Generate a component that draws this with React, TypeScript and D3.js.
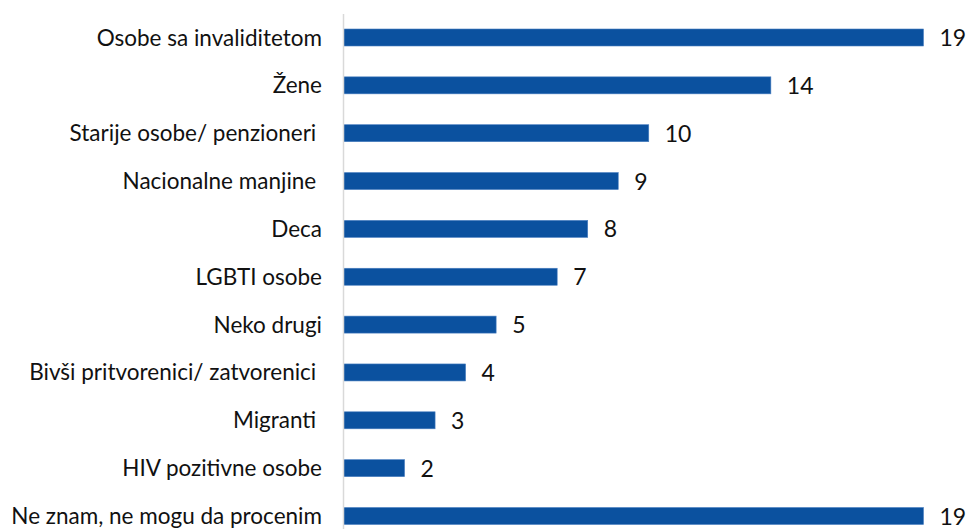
import React, { useEffect, useRef } from 'react';
import * as d3 from 'd3';

const categories = [
  'Osobe sa invaliditetom',
  'Žene',
  'Starije osobe/ penzioneri ',
  'Nacionalne manjine ',
  'Deca',
  'LGBTI osobe',
  'Neko drugi',
  'Bivši pritvorenici/ zatvorenici ',
  'Migranti ',
  'HIV pozitivne osobe',
  'Ne znam, ne mogu da procenim',
];
const values = [19, 14, 10, 9, 8, 7, 5, 4, 3, 2, 19];

const W = 966;
const H = 529;

export default function App() {
  const svgRef = useRef<SVGSVGElement>(null);

  useEffect(() => {
    if (!svgRef.current) return;
    const svg = d3.select(svgRef.current);
    svg.selectAll('*').remove();

    const axisX = 343.5;
    const x = d3.scaleLinear().domain([0, 19]).range([axisX, 923.5]);
    const y = d3.scalePoint<string>().domain(categories).range([37.5, 516]);
    const barH = 17;

    // bars
    svg.append('g')
      .selectAll('rect')
      .data(categories)
      .enter()
      .append('rect')
      .attr('x', x(0))
      .attr('y', d => (y(d) || 0) - barH / 2)
      .attr('width', (_, i) => x(values[i]) - x(0))
      .attr('height', barH)
      .attr('fill', '#0b519f')
      .attr('stroke', '#4a7fc0')
      .attr('stroke-width', 0.6);

    // axis line
    svg.append('line')
      .attr('x1', axisX)
      .attr('x2', axisX)
      .attr('y1', 14)
      .attr('y2', H)
      .attr('stroke', '#d9d9d9')
      .attr('stroke-width', 1.5);

    // category labels (trailing spaces kept as in the source)
    svg.append('g')
      .selectAll('text')
      .data(categories)
      .enter()
      .append('text')
      .attr('x', 322)
      .attr('y', d => (y(d) || 0) + 8)
      .attr('text-anchor', 'end')
      .style('font-family', 'Lato, "Open Sans", sans-serif')
      .style('font-size', '22.5px')
      .style('fill', '#111')
      .style('white-space', 'pre')
      .text(d => d);

    // value labels
    svg.append('g')
      .selectAll('text')
      .data(categories)
      .enter()
      .append('text')
      .attr('x', (_, i) => x(values[i]) + 16)
      .attr('y', d => (y(d) || 0) + 8.5)
      .style('font-family', 'Lato, "Open Sans", sans-serif')
      .style('font-size', '23px')
      .style('fill', '#111')
      .text((_, i) => values[i]);
  }, []);

  return (
    <div style={{ position: 'fixed', left: 0, top: 0, width: W, height: H, background: '#fff' }}>
      <svg ref={svgRef} width={W} height={H} style={{ display: 'block' }} />
    </div>
  );
}
